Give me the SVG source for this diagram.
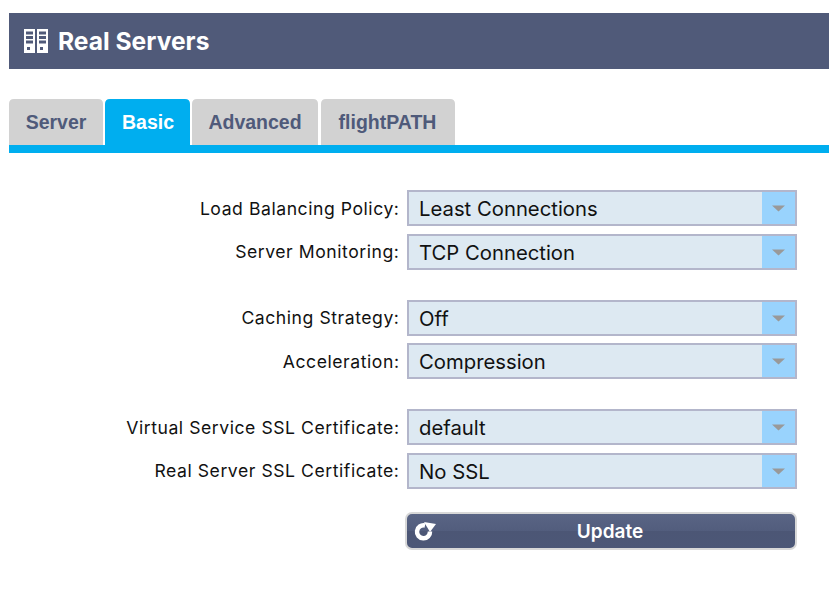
<svg xmlns="http://www.w3.org/2000/svg" width="829" height="592" viewBox="0 0 829 592">
<style>
.tab{fill:#d2d2d2}
.tabt{font:bold 19.500px "Liberation Sans",Arial,sans-serif;fill:#4f5a7a;text-anchor:middle}
.lab{font:17.600px Inter,"Noto Sans",sans-serif;letter-spacing:.55px;fill:#111;text-anchor:end}
.val{font:20.300px Inter,"Noto Sans",sans-serif;fill:#111}
.sel{fill:#dde9f2;stroke:#b3b6cb;stroke-width:2}
.btn{fill:#99d3fd}
.arr{fill:#999}
</style>
<defs>
<linearGradient id="bg" x1="0" y1="0" x2="0" y2="1"><stop offset="0" stop-color="#5a6585"/><stop offset="0.5" stop-color="#525d7d"/><stop offset="0.5" stop-color="#4c5675"/><stop offset="1" stop-color="#4c5777"/></linearGradient>
<g id="drop"><rect class="sel" x="408" y="191" width="388" height="34"/><rect class="btn" x="762" y="192" width="33" height="32"/><path class="arr" d="M772 205.500h13l-6.500 6z"/></g>
</defs>
<g id="header">
<rect x="9" y="13" width="820" height="56" fill="#505a79"/>
<g fill="#fff"><path fill-rule="evenodd" d="M24 29h11v24h-11zM26 31.500v3h7v-3zM26 36v3h7v-3zM26 40.500v3h7v-3zM27 47v3h3v-3z"/><path fill-rule="evenodd" d="M37 29h11v24h-11zM39 31.500v3h7v-3zM39 36v3h7v-3zM39 40.500v3h7v-3zM40 47v3h3v-3z"/></g>
<text x="58" y="49.500" font-family="Inter,sans-serif" font-weight="700" font-size="24.600" fill="#fff">Real Servers</text>
</g>
<g id="tabs">
<g id="tab-server"><path class="tab" d="M9 145v-41q0-5 5-5h84q5 0 5 5v41z"/><text class="tabt" x="56" y="129">Server</text></g>
<g id="tab-basic"><path fill="#00aeef" d="M105 145v-41q0-5 5-5h75q5 0 5 5v41z"/><text class="tabt" x="148" y="129" style="fill:#fff">Basic</text></g>
<g id="tab-advanced"><path class="tab" d="M192 145v-41q0-5 5-5h116q5 0 5 5v41z"/><text class="tabt" x="255" y="129">Advanced</text></g>
<g id="tab-flightpath"><path class="tab" d="M321 145v-41q0-5 5-5h124q5 0 5 5v41z"/><text class="tabt" x="387.500" y="129">flightPATH</text></g>
<rect x="9" y="145" width="820" height="8" fill="#00aeef"/>
</g>
<g id="connectors"/>
<g id="field-policy"><use href="#drop"/><text class="lab" x="399.500" y="215">Load Balancing Policy:</text><text class="val" x="419" y="216">Least Connections</text></g>
<g id="field-monitoring"><use href="#drop" y="44"/><text class="lab" x="399.500" y="258">Server Monitoring:</text><text class="val" x="419" y="260">TCP Connection</text></g>
<g id="field-caching"><use href="#drop" y="110"/><text class="lab" x="399.500" y="324">Caching Strategy:</text><text class="val" x="419" y="326">Off</text></g>
<g id="field-acceleration"><use href="#drop" y="153"/><text class="lab" x="399.500" y="368">Acceleration:</text><text class="val" x="419" y="369">Compression</text></g>
<g id="field-vs-ssl"><use href="#drop" y="219"/><text class="lab" x="399.500" y="434">Virtual Service SSL Certificate:</text><text class="val" x="419" y="435">default</text></g>
<g id="field-rs-ssl"><use href="#drop" y="263"/><text class="lab" x="399.500" y="477">Real Server SSL Certificate:</text><text class="val" x="419" y="479">No SSL</text></g>
<g id="update">
<rect x="406" y="513" width="390" height="36" rx="6" fill="url(#bg)" stroke="#d8d8d8" stroke-width="2"/>
<path d="M425 525.500a6.500 6.500 0 1 0 5 6" fill="none" stroke="#fff" stroke-width="4.500"/><path d="M424 522l12 2-6 8z" fill="#fff"/>
<text x="610" y="538" font-family="Inter,sans-serif" font-weight="600" font-size="19" fill="#fff" text-anchor="middle">Update</text>
</g>
</svg>
